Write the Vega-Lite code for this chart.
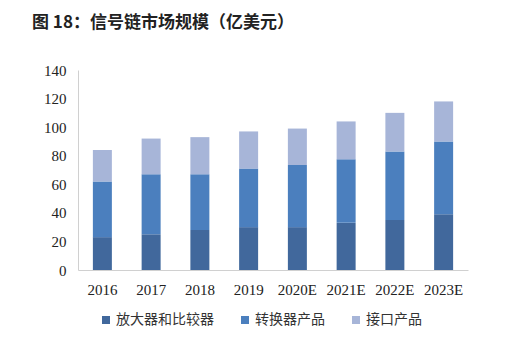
{
  "$schema": "https://vega.github.io/schema/vega-lite/v6.json",
  "width": 390,
  "height": 200,
  "autosize": {"type": "none"},
  "padding": {"left": 78, "top": 70, "right": 46, "bottom": 84},
  "background": "white",
  "title": {
    "text": "图 18：信号链市场规模（亿美元）",
    "anchor": "start",
    "frame": "group",
    "dx": -46,
    "offset": 31,
    "font": "Noto Sans CJK SC",
    "fontSize": 17,
    "fontWeight": "bold",
    "color": "#222222"
  },
  "data": {
    "values": [
      {"year": "2016", "seg": "放大器和比较器", "o": 1, "v": 23},
      {"year": "2016", "seg": "转换器产品", "o": 2, "v": 39},
      {"year": "2016", "seg": "接口产品", "o": 3, "v": 22},
      {"year": "2017", "seg": "放大器和比较器", "o": 1, "v": 25},
      {"year": "2017", "seg": "转换器产品", "o": 2, "v": 42},
      {"year": "2017", "seg": "接口产品", "o": 3, "v": 25},
      {"year": "2018", "seg": "放大器和比较器", "o": 1, "v": 28},
      {"year": "2018", "seg": "转换器产品", "o": 2, "v": 39},
      {"year": "2018", "seg": "接口产品", "o": 3, "v": 26},
      {"year": "2019", "seg": "放大器和比较器", "o": 1, "v": 30},
      {"year": "2019", "seg": "转换器产品", "o": 2, "v": 41},
      {"year": "2019", "seg": "接口产品", "o": 3, "v": 26},
      {"year": "2020E", "seg": "放大器和比较器", "o": 1, "v": 30},
      {"year": "2020E", "seg": "转换器产品", "o": 2, "v": 43.5},
      {"year": "2020E", "seg": "接口产品", "o": 3, "v": 25.5},
      {"year": "2021E", "seg": "放大器和比较器", "o": 1, "v": 33},
      {"year": "2021E", "seg": "转换器产品", "o": 2, "v": 44.5},
      {"year": "2021E", "seg": "接口产品", "o": 3, "v": 26.5},
      {"year": "2022E", "seg": "放大器和比较器", "o": 1, "v": 35},
      {"year": "2022E", "seg": "转换器产品", "o": 2, "v": 48},
      {"year": "2022E", "seg": "接口产品", "o": 3, "v": 27},
      {"year": "2023E", "seg": "放大器和比较器", "o": 1, "v": 39},
      {"year": "2023E", "seg": "转换器产品", "o": 2, "v": 51},
      {"year": "2023E", "seg": "接口产品", "o": 3, "v": 28}
    ]
  },
  "mark": {"type": "bar", "width": 19},
  "encoding": {
    "x": {
      "field": "year",
      "type": "nominal",
      "sort": null,
      "scale": {"paddingInner": 0.6, "paddingOuter": 0.3},
      "axis": {
        "title": null,
        "labelAngle": 0,
        "labelFont": "Liberation Serif",
        "labelFontSize": 15,
        "labelColor": "#222222",
        "labelPadding": 12,
        "ticks": false,
        "domainColor": "#d0d0d0",
        "grid": false
      }
    },
    "y": {
      "field": "v",
      "type": "quantitative",
      "stack": "zero",
      "scale": {"domain": [0, 140]},
      "axis": {
        "title": null,
        "values": [0, 20, 40, 60, 80, 100, 120, 140],
        "labelFont": "Liberation Serif",
        "labelFontSize": 15,
        "labelColor": "#222222",
        "labelPadding": 12,
        "ticks": false,
        "domainColor": "#d0d0d0",
        "grid": false
      }
    },
    "color": {
      "field": "seg",
      "type": "nominal",
      "sort": ["放大器和比较器", "转换器产品", "接口产品"],
      "scale": {
        "domain": ["放大器和比较器", "转换器产品", "接口产品"],
        "range": ["#41689C", "#4B7FBE", "#A7B5D8"]
      },
      "legend": {
        "title": null,
        "orient": "none",
        "legendX": 21,
        "legendY": 243,
        "direction": "horizontal",
        "symbolType": "square",
        "symbolSize": 64,
        "symbolStrokeWidth": 0,
        "labelFont": "Noto Sans CJK SC",
        "labelFontSize": 14,
        "labelColor": "#333333",
        "columnPadding": 24,
        "labelOffset": 3
      }
    },
    "order": {"field": "o", "type": "quantitative"}
  },
  "config": {"view": {"stroke": null}}
}
